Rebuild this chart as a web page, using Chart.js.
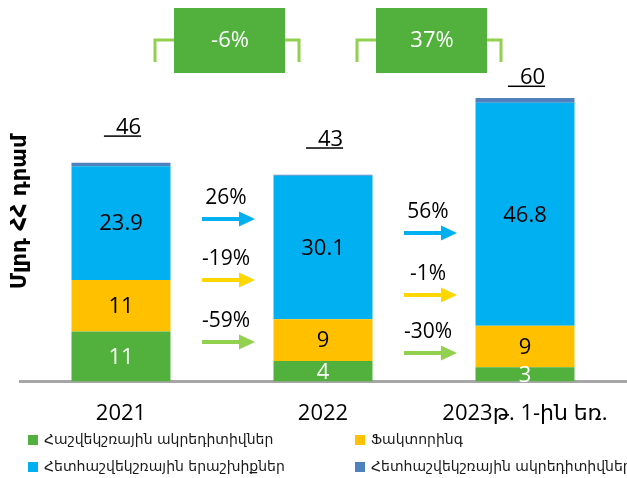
<!DOCTYPE html>
<html><head><meta charset="utf-8">
<script src="https://cdn.jsdelivr.net/npm/chart.js@4.4.0/dist/chart.umd.min.js"></script>
<style>html,body{margin:0;padding:0;background:#fff;}#wrap{width:627px;height:478px;position:relative;}</style>
</head><body><div id="wrap"><canvas id="c" width="627" height="478"></canvas></div>
<script>
const categories = ["2021", "2022", "2023թ. 1-ին եռ."];
const seriesNames = ["Հաշվեկշռային ակրեդիտիվներ", "Ֆակտորինգ", "Հետհաշվեկշռային երաշխիքներ", "Հետհաշվեկշռային ակրեդիտիվներ"];
const onBalanceLC = [10.5, 4.3, 3.0];
const factoring = [10.8, 8.8, 8.7];
const offBalanceGuarantees = [23.9, 30.1, 46.8];
const offBalanceLC = [0.7, 0.2, 1.0];
const yAxisTitle = "Մլրդ ՀՀ դրամ";
const totalChangeLabels = ["-6%", "37%"];
// per period-change group: [guarantees, factoring, on-balance LC]
const seriesChangeLabels = [["26%", "-19%", "-59%"], ["56%", "-1%", "-30%"]];

const COLORS = ["#51b13c", "#ffc000", "#00b0f0", "#4f81bd"];
const ARROW_COLORS = ["#00b0f0", "#ffd700", "#92d050"];
const FONT = "'Open Sans', 'DejaVu Sans', sans-serif";
const ARM = "'DejaVu Sans', sans-serif";

const series = [onBalanceLC, factoring, offBalanceGuarantees, offBalanceLC];

const labelPlugin = {
  id: 'segLabels',
  afterDatasetsDraw(chart) {
    const ctx = chart.ctx;
    ctx.save();
    ctx.textAlign = 'center';
    ctx.textBaseline = 'middle';
    ctx.font = "22px " + FONT;
    for (let d = 0; d < 3; d++) {
      const meta = chart.getDatasetMeta(d);
      meta.data.forEach((bar, i) => {
        const v = chart.data.datasets[d].data[i];
        const txt = d === 2 ? v.toFixed(1) : String(Math.round(v));
        ctx.fillStyle = d === 0 ? '#ffffff' : '#000000';
        ctx.fillText(txt, bar.x, (bar.y + bar.base) / 2 + 1);
      });
    }
    ctx.restore();
  }
};

const decoPlugin = {
  id: 'deco',
  afterDraw(chart, args, opts) {
    const ctx = chart.ctx;
    const xs = chart.scales.x;
    ctx.save();
    // y-axis title
    ctx.save();
    ctx.translate(21, 212);
    ctx.rotate(-Math.PI / 2);
    ctx.font = "bold 21px " + ARM;
    ctx.fillStyle = '#000';
    ctx.textAlign = 'center';
    ctx.textBaseline = 'middle';
    ctx.fillText(yAxisTitle, 0, 0);
    ctx.restore();

    // totals
    const lastMeta = chart.getDatasetMeta(chart.data.datasets.length - 1);
    ctx.font = "22px " + FONT;
    ctx.fillStyle = '#000';
    ctx.textAlign = 'left';
    ctx.textBaseline = 'alphabetic';
    categories.forEach((c, i) => {
      let total = 0;
      chart.data.datasets.forEach(ds => total += ds.data[i]);
      const txt = "\u2002" + Math.round(total);
      const w = ctx.measureText(txt).width;
      const bar = lastMeta.data[i];
      const base = bar.y - opts.totalOffsets[i];
      const x0 = bar.x - w / 2 + 2;
      ctx.fillText(txt, x0, base);
      ctx.fillRect(x0 - 1, base + 1.5, w + 1, 1.5);
    });

    // change groups between bars
    for (let g = 0; g < 2; g++) {
      const mid = (xs.getPixelForValue(g) + xs.getPixelForValue(g + 1)) / 2;
      const cx = mid + 7;
      ctx.strokeStyle = '#92d050';
      ctx.lineWidth = 3;
      ctx.beginPath();
      ctx.moveTo(cx - 74, 62); ctx.lineTo(cx - 74, 40); ctx.lineTo(cx + 70, 40); ctx.lineTo(cx + 70, 62);
      ctx.stroke();
      ctx.fillStyle = '#51b13c';
      ctx.fillRect(cx - 55, 8, 111, 65);
      ctx.fillStyle = '#fff';
      ctx.font = "22px " + FONT;
      ctx.textAlign = 'center';
      ctx.textBaseline = 'middle';
      ctx.fillText(totalChangeLabels[g], cx + 1, 41);
      for (let k = 0; k < 3; k++) {
        const ay = opts.arrowY[g][k];
        const x0 = mid - 20, x1 = mid + 33;
        ctx.fillStyle = ARROW_COLORS[k];
        ctx.fillRect(x0, ay - 2, x1 - x0 - 14, 4);
        ctx.beginPath();
        ctx.moveTo(x1 - 16, ay - 7.5);
        ctx.lineTo(x1, ay);
        ctx.lineTo(x1 - 16, ay + 7.5);
        ctx.closePath();
        ctx.fill();
        ctx.fillStyle = '#000';
        ctx.font = "21px " + FONT;
        ctx.fillText(seriesChangeLabels[g][k], mid + 4, ay - 21);
      }
    }

    // legend
    ctx.font = "14px " + ARM;
    ctx.textAlign = 'left';
    ctx.textBaseline = 'middle';
    const pos = [[28, 440], [355, 440], [28, 467], [355, 467]];
    chart.data.datasets.forEach((ds, i) => {
      const [lx, ly] = pos[i];
      ctx.fillStyle = ds.backgroundColor;
      ctx.fillRect(lx, ly - 5, 10, 10);
      ctx.fillStyle = '#1a1a1a';
      ctx.fillText(ds.label, lx + 16, ly);
    });
    ctx.restore();
  }
};

new Chart(document.getElementById('c'), {
  type: 'bar',
  data: {
    labels: categories,
    datasets: series.map((s, i) => ({
      label: seriesNames[i],
      data: s,
      backgroundColor: COLORS[i],
      borderWidth: 0,
      categoryPercentage: 1,
      barPercentage: 0.49
    }))
  },
  options: {
    responsive: false,
    animation: false,
    devicePixelRatio: 1,
    layout: { padding: { left: 20, right: 1, top: 48, bottom: 32 } },
    plugins: {
      legend: { display: false },
      tooltip: { enabled: false },
      deco: { totalOffsets: [29, 29, 14], arrowY: [[219, 280, 342], [233, 295, 353]] }
    },
    scales: {
      x: {
        stacked: true,
        z: 1,
        grid: { display: false, drawTicks: false },
        border: { display: true, color: '#a6a6a6', width: 3 },
        ticks: { color: '#000', font: { family: FONT, size: 22 }, padding: 19, maxRotation: 0, autoSkip: false }
      },
      y: { stacked: true, display: false, min: 0, max: 70 }
    }
  },
  plugins: [labelPlugin, decoPlugin]
});
</script></body></html>
